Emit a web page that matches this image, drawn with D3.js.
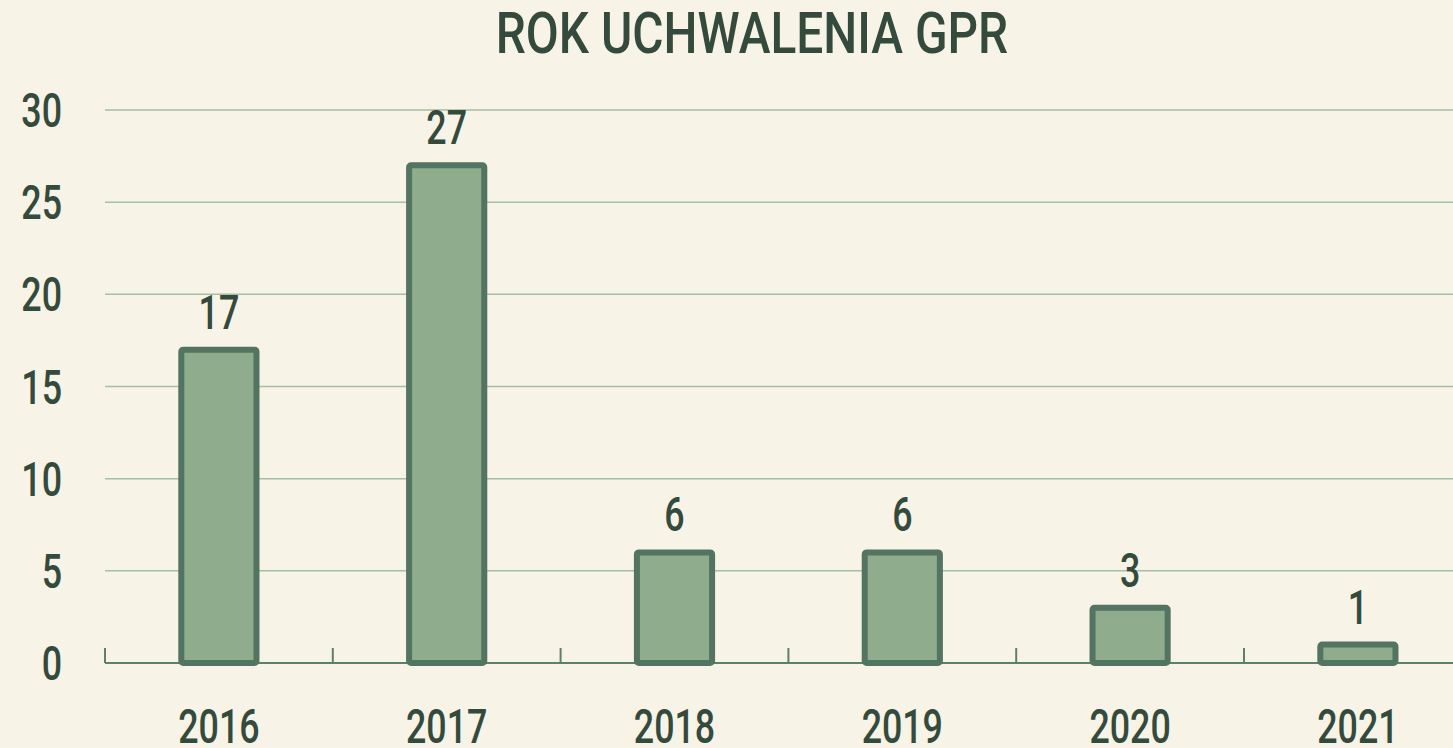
<!DOCTYPE html>
<html>
<head>
<meta charset="utf-8">
<script src="https://cdn.jsdelivr.net/npm/d3@7"></script>
<style>
  body { margin: 0; background: #f7f3e6; }
  svg { display: block; }
  text { font-family: Roboto, "DejaVu Sans", sans-serif; font-weight: 500; fill: #344a3c; }
</style>
</head>
<body>
<svg id="svg_chart" width="1453" height="748"></svg>
<script>
const years = ['2016', '2017', '2018', '2019', '2020', '2021'];
const counts = [17, 27, 6, 6, 3, 1];
const yTicks = [0, 5, 10, 15, 20, 25, 30];
const title = 'ROK UCHWALENIA GPR';

const c1 = '#8fac8c', c2 = '#527460', c3 = '#344a3c', cGrid = '#a6bea2', cAxis = '#5e7f69';

const svg = d3.select('#svg_chart');
const width = 1453, height = 748,
  padLeft = 105, padTop = 110, padBottom = 85;
const innerHeight = height - padTop - padBottom;
const step = 227.8;
const numSize = '49px', numK = 0.73;

const data = years.map((d, i) => ({ year: d, value: counts[i] }));

// squeeze text horizontally to imitate a condensed face
function squeeze(sel, k) {
  sel.each(function () {
    const w = this.getComputedTextLength();
    d3.select(this).attr('textLength', w * k).attr('lengthAdjust', 'spacingAndGlyphs');
  });
}

const x = d3.scaleBand()
  .domain(years)
  .range([padLeft, padLeft + step * years.length])
  .paddingInner(0.67)
  .paddingOuter(0.335);

const y = d3.scaleLinear()
  .domain([0, 30])
  .range([padTop + innerHeight, padTop]);

// title
svg.append('text')
  .attr('x', 752)
  .attr('y', 53)
  .attr('text-anchor', 'middle')
  .style('font-size', '57px')
  .text(title)
  .call(squeeze, 0.84);

// gridlines
svg.append('g').selectAll('line')
  .data(yTicks.filter(d => d > 0))
  .join('line')
  .attr('x1', padLeft).attr('x2', width)
  .attr('y1', d => y(d)).attr('y2', d => y(d))
  .attr('stroke', cGrid).attr('stroke-width', 1.5);

// y labels
svg.append('g').selectAll('text')
  .data(yTicks)
  .join('text')
  .attr('x', 62)
  .attr('y', d => y(d))
  .attr('dy', '0.35em')
  .attr('text-anchor', 'end')
  .style('font-size', numSize)
  .text(d => d)
  .call(squeeze, numK);

// x axis baseline + ticks at band boundaries
const axis = svg.append('g');
axis.append('line')
  .attr('x1', padLeft).attr('x2', width)
  .attr('y1', y(0)).attr('y2', y(0))
  .attr('stroke', cAxis).attr('stroke-width', 2);
axis.selectAll('.tick')
  .data(years)
  .join('line')
  .attr('class', 'tick')
  .attr('x1', d => x(d) - x.step() * x.paddingInner() / 2)
  .attr('x2', d => x(d) - x.step() * x.paddingInner() / 2)
  .attr('y1', y(0)).attr('y2', y(0) - 15)
  .attr('stroke', cAxis).attr('stroke-width', 2);

// bars
svg.append('g').selectAll('rect')
  .data(data)
  .join('rect')
  .attr('x', d => x(d.year))
  .attr('y', d => y(d.value))
  .attr('width', x.bandwidth())
  .attr('height', d => y(0) - y(d.value))
  .attr('rx', 2)
  .attr('fill', c1)
  .attr('stroke', c2)
  .attr('stroke-width', 6);

// value labels
svg.append('g').selectAll('text')
  .data(data)
  .join('text')
  .attr('x', d => x(d.year) + x.bandwidth() / 2)
  .attr('y', d => y(d.value) - 21)
  .attr('text-anchor', 'middle')
  .style('font-size', numSize)
  .text(d => d.value)
  .call(squeeze, numK);

// year labels
svg.append('g').selectAll('text')
  .data(years)
  .join('text')
  .attr('x', d => x(d) + x.bandwidth() / 2)
  .attr('y', 743)
  .attr('text-anchor', 'middle')
  .style('font-size', numSize)
  .text(d => d)
  .call(squeeze, numK);
</script>
</body>
</html>
